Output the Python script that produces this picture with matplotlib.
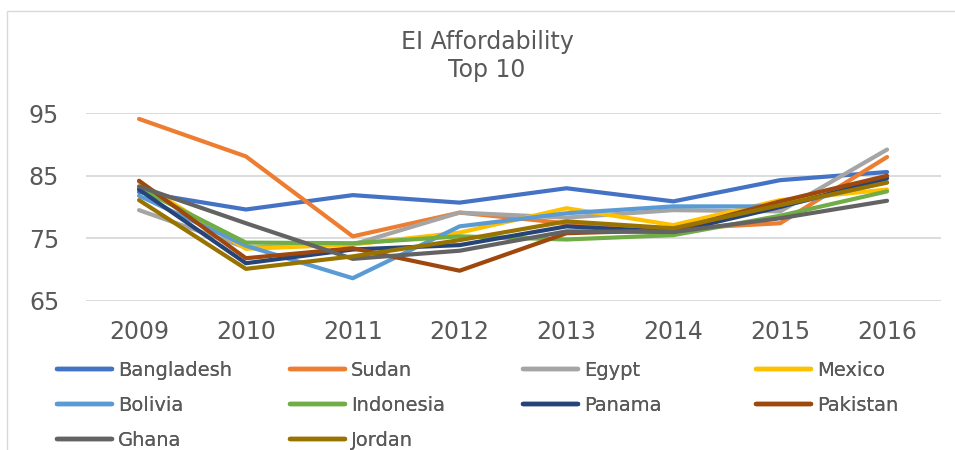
import matplotlib
matplotlib.use("Agg")
import matplotlib.pyplot as plt
from matplotlib.patches import Rectangle

plt.rcParams['font.family'] = ['DejaVu Sans']

years = ["2009", "2010", "2011", "2012", "2013", "2014", "2015", "2016"]

bangladesh = [82.4, 79.6, 81.9, 80.7, 83.0, 80.9, 84.3, 85.6]
sudan      = [94.1, 88.1, 75.3, 79.1, 77.4, 76.5, 77.4, 88.0]
egypt      = [79.5, 73.5, 74.0, 79.1, 78.3, 79.5, 79.3, 89.2]
mexico     = [84.0, 73.3, 74.0, 75.9, 79.8, 77.1, 81.1, 82.8]
bolivia    = [81.8, 73.8, 68.6, 76.9, 79.0, 80.1, 80.1, 84.0]
indonesia  = [83.0, 74.3, 74.2, 75.3, 74.8, 75.5, 78.6, 82.5]
panama     = [82.8, 71.0, 73.2, 73.9, 76.9, 76.0, 80.0, 84.6]
pakistan   = [84.2, 71.8, 73.4, 69.8, 75.8, 76.3, 80.9, 85.0]
ghana      = [83.3, 77.4, 71.7, 73.0, 76.1, 76.0, 78.2, 81.0]
jordan     = [81.1, 70.1, 72.1, 74.7, 77.7, 76.6, 80.3, 83.9]

names = ["Bangladesh", "Sudan", "Egypt", "Mexico", "Bolivia",
         "Indonesia", "Panama", "Pakistan", "Ghana", "Jordan"]
series = [bangladesh, sudan, egypt, mexico, bolivia,
          indonesia, panama, pakistan, ghana, jordan]
colors = ["#4472C4", "#ED7D31", "#A5A5A5", "#FFC000", "#5B9BD5",
          "#70AD47", "#264478", "#9E480E", "#636363", "#997300"]

yticks = [65, 75, 85, 95]

W, H = 955, 450
fig = plt.figure(figsize=(W / 100, H / 100), dpi=100)
TXT = "#595959"

# outer chart frame
fig.add_artist(Rectangle((7 / W, -0.2), 2.0, 1.2 - 11 / H,
                         transform=fig.transFigure, fill=False,
                         edgecolor="#d9d9d9", linewidth=1.0))

ax = fig.add_axes([85.6 / W, 1 - 300.7 / H, (940.5 - 85.6) / W, (300.7 - 113.3) / H])
x = list(range(len(years)))
handles = []
for name, vals, c in zip(names, series, colors):
    ln, = ax.plot(x, vals, color=c, linewidth=3.0, label=name,
                  solid_capstyle="round", solid_joinstyle="round", clip_on=False)
    handles.append(ln)

ax.set_xlim(-0.5, len(years) - 0.5)
ax.set_ylim(65, 95)
ax.set_yticks(yticks)
ax.set_xticks(x)
ax.set_xticklabels(years)
for s in ax.spines.values():
    s.set_visible(False)
ax.grid(axis="y", color="#d9d9d9", linewidth=1.3)
ax.set_axisbelow(True)
ax.tick_params(axis="both", length=0, labelsize=17, labelcolor=TXT)
ax.tick_params(axis="x", pad=14)
ax.tick_params(axis="y", pad=19)

fig.text(487 / W, 1 - 56 / H, "EI Affordability\nTop 10", ha="center", va="center",
         fontsize=17, color=TXT, linespacing=1.25)

# legend: four columns, filled row by row
col_x = [57, 290, 523, 756]
for c in range(4):
    idx = [i for i in range(c, len(names), 4)]
    leg = fig.legend([handles[i] for i in idx], [names[i] for i in idx],
                     loc="upper left", bbox_to_anchor=(col_x[c] / W, 1 - 361 / H),
                     frameon=False, fontsize=14, labelcolor=TXT,
                     handlelength=2.85, handletextpad=0.3, borderpad=0,
                     borderaxespad=0, labelspacing=0.83)
    for h in leg.legend_handles:
        h.set_linewidth(3.2)
        h.set_solid_capstyle("round")
    fig.add_artist(leg)

fig.savefig("out.png", dpi=100)
